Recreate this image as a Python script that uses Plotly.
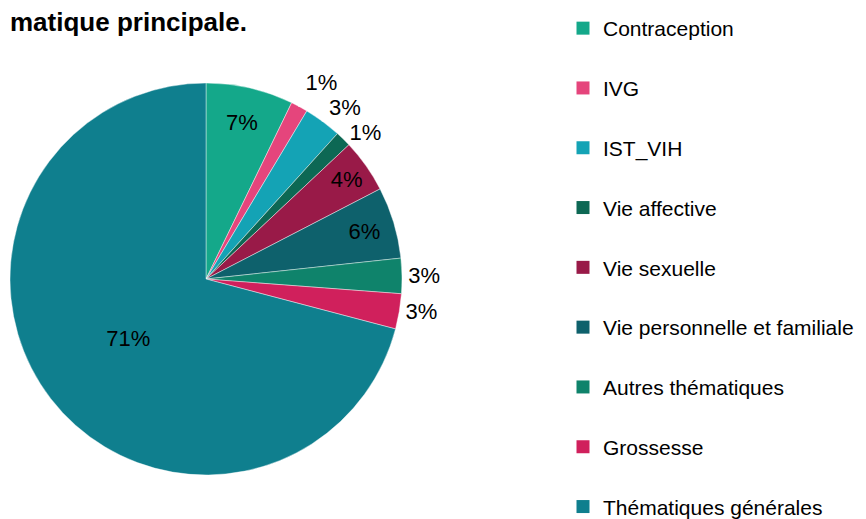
import plotly.graph_objects as go

categories = ["Contraception", "IVG", "IST_VIH", "Vie affective", "Vie sexuelle",
              "Vie personnelle et familiale", "Autres thématiques", "Grossesse",
              "Thématiques générales"]
values = [7.2, 1.4, 3.1, 1.3, 4.4, 5.9, 2.9, 2.9, 70.9]
colors = ["#14A88A", "#E5457C", "#14A3B5", "#0D6854", "#991A48",
          "#0E616C", "#0F836B", "#D0205C", "#0F7F8E"]
text_pos = ["inside", "outside", "outside", "outside", "inside",
            "inside", "outside", "outside", "inside"]
title_text = "matique principale."

FONT = "Liberation Sans, Arial, sans-serif"
W, H = 866, 519

fig = go.Figure()
fig.add_trace(go.Pie(
    labels=categories, values=values, sort=False, direction="clockwise",
    marker=dict(colors=colors, line=dict(color="rgba(255,255,255,0.7)", width=0.6)),
    texttemplate='<span style="color:black">%{percent:.0%}</span>',
    textposition=text_pos,
    insidetextorientation="horizontal",
    textfont=dict(family=FONT, size=22, color="black"),
    outsidetextfont=dict(family=FONT, size=22, color="white"),
    domain=dict(x=[2/W, 394/W], y=[52/H, 444/H]),
    showlegend=False, hoverinfo="label+percent",
))
for c, col in zip(categories, colors):
    fig.add_trace(go.Scatter(
        x=[None], y=[None], mode="markers", name=c,
        marker=dict(symbol="square", size=13, color=col),
        legendgroup=c, showlegend=True,
    ))

fig.update_layout(
    width=W, height=H,
    margin=dict(l=0, r=0, t=0, b=0, autoexpand=False),
    paper_bgcolor="white", plot_bgcolor="white",
    xaxis=dict(visible=False), yaxis=dict(visible=False),
    font=dict(family=FONT, size=21, color="black"),
    annotations=[dict(text=f"<b>{title_text}</b>", x=0, xanchor="left",
                      xref="paper", yref="paper", y=1-14/H, yanchor="middle",
                      showarrow=False, font=dict(family=FONT, size=26, color="black"))],
    legend=dict(x=555/W, xanchor="left", y=1.0, yanchor="top",
                tracegroupgap=29.5, font=dict(family=FONT, size=21),
                bgcolor="rgba(0,0,0,0)"),
)
fig.write_html("out.html")
